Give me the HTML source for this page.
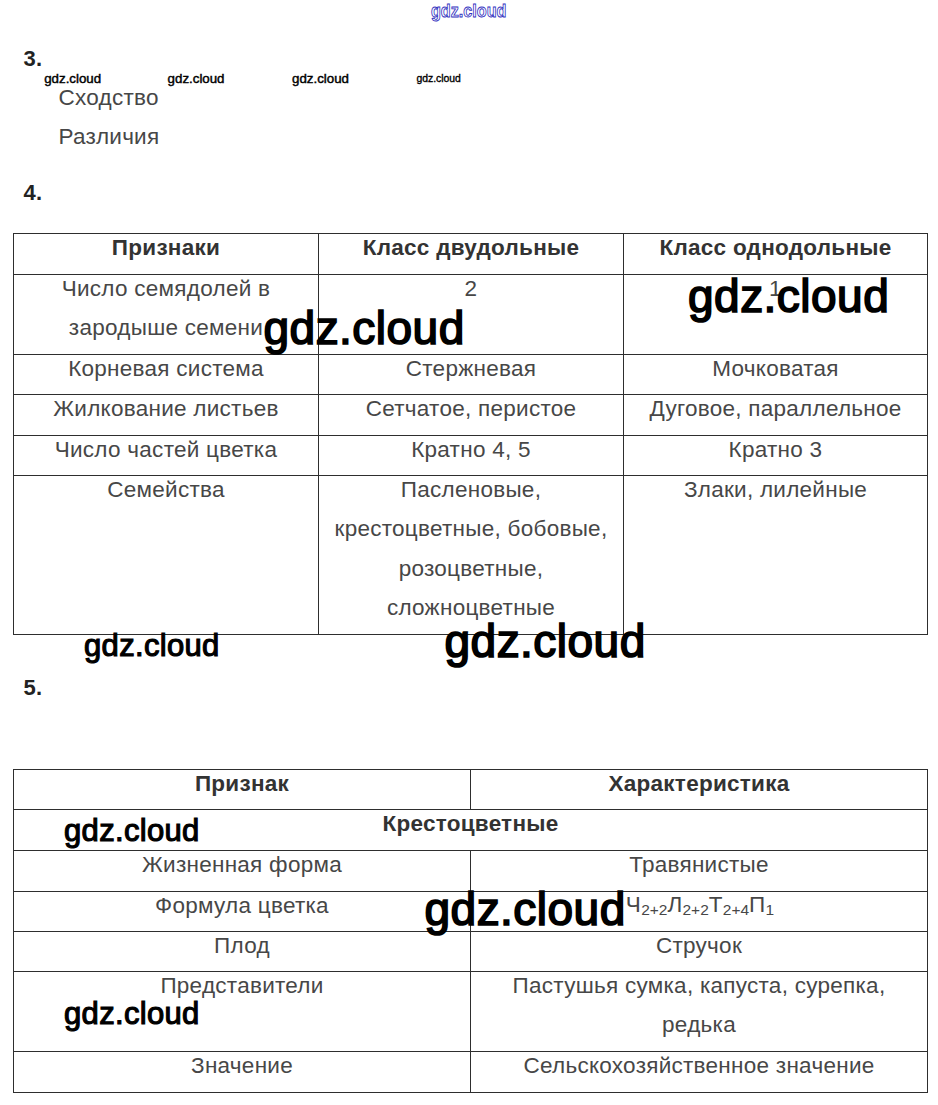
<!DOCTYPE html>
<html><head><meta charset="utf-8"><style>
html,body{margin:0;padding:0;background:#fff;width:938px;height:1105px;overflow:hidden;position:relative}
.l{position:absolute}
.t{position:absolute;font-family:"Liberation Sans",sans-serif;white-space:nowrap}
.w{position:absolute;font-family:"Liberation Sans",sans-serif;white-space:nowrap;color:#000;-webkit-text-stroke:1.7px #000}
</style></head><body>
<div class="t" style="left:23.50px;top:47.78px;font-size:22px;line-height:22px;font-weight:bold;color:#222;letter-spacing:0.27px;">3.</div>
<div class="t" style="left:58.50px;top:87.15px;font-size:22.5px;line-height:22.5px;font-weight:normal;color:#474747;letter-spacing:0.27px;">Сходство</div>
<div class="t" style="left:58.50px;top:126.35px;font-size:22.5px;line-height:22.5px;font-weight:normal;color:#474747;letter-spacing:0.27px;">Различия</div>
<div class="t" style="left:23.50px;top:181.98px;font-size:22px;line-height:22px;font-weight:bold;color:#222;letter-spacing:0.27px;">4.</div>
<div class="t" style="left:23.50px;top:676.98px;font-size:22px;line-height:22px;font-weight:bold;color:#222;letter-spacing:0.27px;">5.</div>
<div class="l" style="left:13px;top:233px;width:915px;height:1px;background:#2e2e2e"></div>
<div class="l" style="left:13px;top:274px;width:915px;height:1px;background:#2e2e2e"></div>
<div class="l" style="left:13px;top:354px;width:915px;height:1px;background:#2e2e2e"></div>
<div class="l" style="left:13px;top:394px;width:915px;height:1px;background:#2e2e2e"></div>
<div class="l" style="left:13px;top:435px;width:915px;height:1px;background:#2e2e2e"></div>
<div class="l" style="left:13px;top:475px;width:915px;height:1px;background:#2e2e2e"></div>
<div class="l" style="left:13px;top:634px;width:915px;height:1px;background:#2e2e2e"></div>
<div class="l" style="left:13px;top:233px;width:1px;height:402px;background:#2e2e2e"></div>
<div class="l" style="left:318px;top:233px;width:1px;height:402px;background:#2e2e2e"></div>
<div class="l" style="left:623px;top:233px;width:1px;height:402px;background:#2e2e2e"></div>
<div class="l" style="left:927px;top:233px;width:1px;height:402px;background:#2e2e2e"></div>
<div class="t " style="left:-134.00px;top:237.15px;width:600px;text-align:center;font-size:22.5px;line-height:22.5px;font-weight:bold;color:#333;letter-spacing:0.27px">Признаки</div>
<div class="t " style="left:171.00px;top:237.15px;width:600px;text-align:center;font-size:22.5px;line-height:22.5px;font-weight:bold;color:#333;letter-spacing:0.27px">Класс двудольные</div>
<div class="t " style="left:475.50px;top:237.15px;width:600px;text-align:center;font-size:22.5px;line-height:22.5px;font-weight:bold;color:#333;letter-spacing:0.27px">Класс однодольные</div>
<div class="t " style="left:-134.00px;top:277.65px;width:600px;text-align:center;font-size:22.5px;line-height:22.5px;font-weight:normal;color:#474747;letter-spacing:0.27px">Число семядолей в</div>
<div class="t " style="left:-134.00px;top:317.15px;width:600px;text-align:center;font-size:22.5px;line-height:22.5px;font-weight:normal;color:#474747;letter-spacing:0.27px">зародыше семени</div>
<div class="t " style="left:171.00px;top:277.65px;width:600px;text-align:center;font-size:22.5px;line-height:22.5px;font-weight:normal;color:#474747;letter-spacing:0.27px">2</div>
<div class="t " style="left:475.50px;top:277.65px;width:600px;text-align:center;font-size:22.5px;line-height:22.5px;font-weight:normal;color:#474747;letter-spacing:0.27px">1</div>
<div class="t " style="left:-134.00px;top:357.65px;width:600px;text-align:center;font-size:22.5px;line-height:22.5px;font-weight:normal;color:#474747;letter-spacing:0.27px">Корневая система</div>
<div class="t " style="left:171.00px;top:357.65px;width:600px;text-align:center;font-size:22.5px;line-height:22.5px;font-weight:normal;color:#474747;letter-spacing:0.27px">Стержневая</div>
<div class="t " style="left:475.50px;top:357.65px;width:600px;text-align:center;font-size:22.5px;line-height:22.5px;font-weight:normal;color:#474747;letter-spacing:0.27px">Мочковатая</div>
<div class="t " style="left:-134.00px;top:397.65px;width:600px;text-align:center;font-size:22.5px;line-height:22.5px;font-weight:normal;color:#474747;letter-spacing:0.27px">Жилкование листьев</div>
<div class="t " style="left:171.00px;top:397.65px;width:600px;text-align:center;font-size:22.5px;line-height:22.5px;font-weight:normal;color:#474747;letter-spacing:0.27px">Сетчатое, перистое</div>
<div class="t " style="left:475.50px;top:397.65px;width:600px;text-align:center;font-size:22.5px;line-height:22.5px;font-weight:normal;color:#474747;letter-spacing:0.27px">Дуговое, параллельное</div>
<div class="t " style="left:-134.00px;top:438.65px;width:600px;text-align:center;font-size:22.5px;line-height:22.5px;font-weight:normal;color:#474747;letter-spacing:0.27px">Число частей цветка</div>
<div class="t " style="left:171.00px;top:438.65px;width:600px;text-align:center;font-size:22.5px;line-height:22.5px;font-weight:normal;color:#474747;letter-spacing:0.27px">Кратно 4, 5</div>
<div class="t " style="left:475.50px;top:438.65px;width:600px;text-align:center;font-size:22.5px;line-height:22.5px;font-weight:normal;color:#474747;letter-spacing:0.27px">Кратно 3</div>
<div class="t " style="left:-134.00px;top:478.65px;width:600px;text-align:center;font-size:22.5px;line-height:22.5px;font-weight:normal;color:#474747;letter-spacing:0.27px">Семейства</div>
<div class="t " style="left:171.00px;top:478.65px;width:600px;text-align:center;font-size:22.5px;line-height:22.5px;font-weight:normal;color:#474747;letter-spacing:0.27px">Пасленовые,</div>
<div class="t " style="left:171.00px;top:518.15px;width:600px;text-align:center;font-size:22.5px;line-height:22.5px;font-weight:normal;color:#474747;letter-spacing:0.27px">крестоцветные, бобовые,</div>
<div class="t " style="left:171.00px;top:557.65px;width:600px;text-align:center;font-size:22.5px;line-height:22.5px;font-weight:normal;color:#474747;letter-spacing:0.27px">розоцветные,</div>
<div class="t " style="left:171.00px;top:597.15px;width:600px;text-align:center;font-size:22.5px;line-height:22.5px;font-weight:normal;color:#474747;letter-spacing:0.27px">сложноцветные</div>
<div class="t " style="left:475.50px;top:478.65px;width:600px;text-align:center;font-size:22.5px;line-height:22.5px;font-weight:normal;color:#474747;letter-spacing:0.27px">Злаки, лилейные</div>
<div class="l" style="left:13px;top:769px;width:915px;height:1px;background:#2e2e2e"></div>
<div class="l" style="left:13px;top:809px;width:915px;height:1px;background:#2e2e2e"></div>
<div class="l" style="left:13px;top:850px;width:915px;height:1px;background:#2e2e2e"></div>
<div class="l" style="left:13px;top:891px;width:915px;height:1px;background:#2e2e2e"></div>
<div class="l" style="left:13px;top:931px;width:915px;height:1px;background:#2e2e2e"></div>
<div class="l" style="left:13px;top:971px;width:915px;height:1px;background:#2e2e2e"></div>
<div class="l" style="left:13px;top:1051px;width:915px;height:1px;background:#2e2e2e"></div>
<div class="l" style="left:13px;top:1092px;width:915px;height:1px;background:#2e2e2e"></div>
<div class="l" style="left:13px;top:769px;width:1px;height:324px;background:#2e2e2e"></div>
<div class="l" style="left:927px;top:769px;width:1px;height:324px;background:#2e2e2e"></div>
<div class="l" style="left:470px;top:769px;width:1px;height:41px;background:#2e2e2e"></div>
<div class="l" style="left:470px;top:850px;width:1px;height:243px;background:#2e2e2e"></div>
<div class="t " style="left:-58.00px;top:772.75px;width:600px;text-align:center;font-size:22.5px;line-height:22.5px;font-weight:bold;color:#333;letter-spacing:0.27px">Признак</div>
<div class="t " style="left:399.00px;top:772.75px;width:600px;text-align:center;font-size:22.5px;line-height:22.5px;font-weight:bold;color:#333;letter-spacing:0.27px">Характеристика</div>
<div class="t " style="left:170.50px;top:813.25px;width:600px;text-align:center;font-size:22.5px;line-height:22.5px;font-weight:bold;color:#333;letter-spacing:0.27px">Крестоцветные</div>
<div class="t " style="left:-58.00px;top:853.65px;width:600px;text-align:center;font-size:22.5px;line-height:22.5px;font-weight:normal;color:#474747;letter-spacing:0.27px">Жизненная форма</div>
<div class="t " style="left:399.00px;top:853.65px;width:600px;text-align:center;font-size:22.5px;line-height:22.5px;font-weight:normal;color:#474747;letter-spacing:0.27px">Травянистые</div>
<div class="t " style="left:-58.00px;top:894.65px;width:600px;text-align:center;font-size:22.5px;line-height:22.5px;font-weight:normal;color:#474747;letter-spacing:0.27px">Формула цветка</div>
<div class="t " style="left:-58.00px;top:934.65px;width:600px;text-align:center;font-size:22.5px;line-height:22.5px;font-weight:normal;color:#474747;letter-spacing:0.27px">Плод</div>
<div class="t " style="left:399.00px;top:934.65px;width:600px;text-align:center;font-size:22.5px;line-height:22.5px;font-weight:normal;color:#474747;letter-spacing:0.27px">Стручок</div>
<div class="t " style="left:-58.00px;top:974.65px;width:600px;text-align:center;font-size:22.5px;line-height:22.5px;font-weight:normal;color:#474747;letter-spacing:0.27px">Представители</div>
<div class="t " style="left:399.00px;top:974.65px;width:600px;text-align:center;font-size:22.5px;line-height:22.5px;font-weight:normal;color:#474747;letter-spacing:0.27px">Пастушья сумка, капуста, сурепка,</div>
<div class="t " style="left:399.00px;top:1014.15px;width:600px;text-align:center;font-size:22.5px;line-height:22.5px;font-weight:normal;color:#474747;letter-spacing:0.27px">редька</div>
<div class="t " style="left:-58.00px;top:1054.65px;width:600px;text-align:center;font-size:22.5px;line-height:22.5px;font-weight:normal;color:#474747;letter-spacing:0.27px">Значение</div>
<div class="t " style="left:399.00px;top:1054.65px;width:600px;text-align:center;font-size:22.5px;line-height:22.5px;font-weight:normal;color:#474747;letter-spacing:0.27px">Сельскохозяйственное значение</div>
<div class="t " style="left:400.00px;top:893.95px;width:600px;text-align:center;font-size:22.5px;line-height:22.5px;font-weight:normal;color:#474747;letter-spacing:0.27px">Ч<span style="font-size:15.5px;vertical-align:-3px;letter-spacing:0px">2+2</span>Л<span style="font-size:15.5px;vertical-align:-3px;letter-spacing:0px">2+2</span>Т<span style="font-size:15.5px;vertical-align:-3px;letter-spacing:0px">2+4</span>П<span style="font-size:15.5px;vertical-align:-3px;letter-spacing:0px">1</span></div>
<div class="w" style="left:688.00px;top:273.36px;font-size:46px;line-height:46px;letter-spacing:0.48px;-webkit-text-stroke:1.70px #000;">gdz.cloud</div>
<div class="w" style="left:263.50px;top:305.16px;font-size:46px;line-height:46px;letter-spacing:0.48px;-webkit-text-stroke:1.70px #000;">gdz.cloud</div>
<div class="w" style="left:444.50px;top:617.86px;font-size:46px;line-height:46px;letter-spacing:0.48px;-webkit-text-stroke:1.70px #000;">gdz.cloud</div>
<div class="w" style="left:424.50px;top:885.56px;font-size:46px;line-height:46px;letter-spacing:0.48px;-webkit-text-stroke:1.70px #000;">gdz.cloud</div>
<div class="w" style="left:84.00px;top:630.26px;font-size:31px;line-height:31px;letter-spacing:0.33px;-webkit-text-stroke:1.15px #000;">gdz.cloud</div>
<div class="w" style="left:64.00px;top:814.66px;font-size:31px;line-height:31px;letter-spacing:0.33px;-webkit-text-stroke:1.15px #000;">gdz.cloud</div>
<div class="w" style="left:64.00px;top:998.46px;font-size:31px;line-height:31px;letter-spacing:0.33px;-webkit-text-stroke:1.15px #000;">gdz.cloud</div>
<div class="w" style="left:44.20px;top:72.04px;font-size:13.3px;line-height:13.3px;letter-spacing:0.00px;-webkit-text-stroke:0.49px #000;-webkit-text-stroke:0.45px #000">gdz.cloud</div>
<div class="w" style="left:167.60px;top:72.04px;font-size:13.3px;line-height:13.3px;letter-spacing:0.00px;-webkit-text-stroke:0.49px #000;-webkit-text-stroke:0.45px #000">gdz.cloud</div>
<div class="w" style="left:292.00px;top:72.04px;font-size:13.3px;line-height:13.3px;letter-spacing:0.00px;-webkit-text-stroke:0.49px #000;-webkit-text-stroke:0.45px #000">gdz.cloud</div>
<div class="w" style="left:416.40px;top:73.80px;font-size:10.4px;line-height:10.4px;letter-spacing:0.00px;-webkit-text-stroke:0.38px #000;-webkit-text-stroke:0.35px #000">gdz.cloud</div>
<div class="w" style="left:431.00px;top:0.82px;font-size:19px;line-height:19px;letter-spacing:0.00px;-webkit-text-stroke:0.70px #000;color:#fff;-webkit-text-stroke:0.9px #3030c0;font-weight:bold;transform:scaleX(0.85);transform-origin:0 0">gdz.cloud</div>
</body></html>
